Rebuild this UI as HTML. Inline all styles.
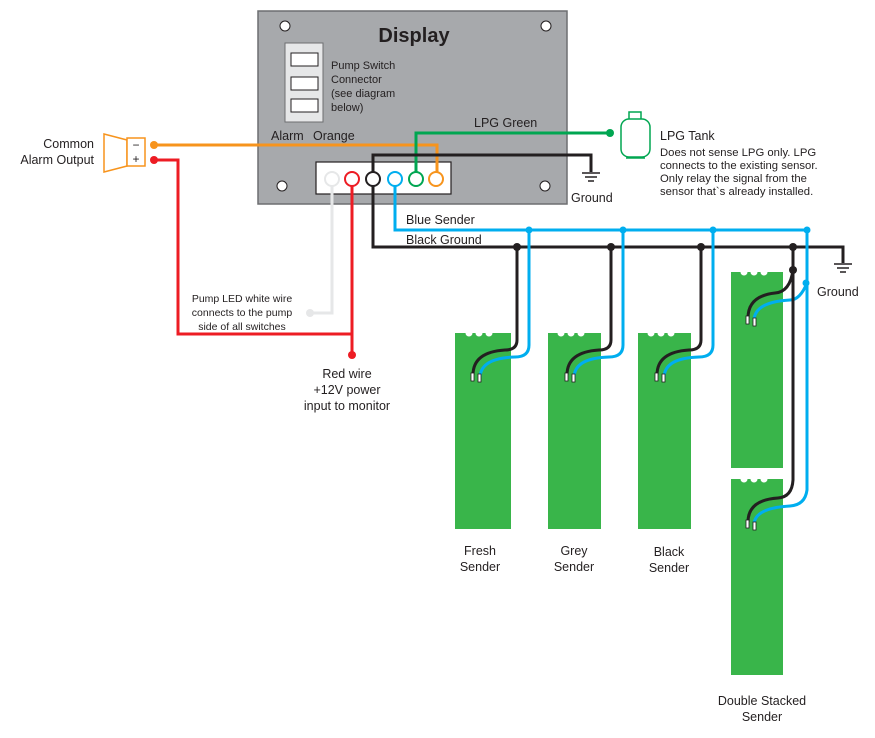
<!DOCTYPE html>
<html><head><meta charset="utf-8"><style>
html,body{margin:0;padding:0;background:#fff}
svg text{font-family:"Liberation Sans",Arial,sans-serif;fill:#231f20}
</style></head><body>
<svg width="875" height="733" viewBox="0 0 875 733" xmlns="http://www.w3.org/2000/svg">
<rect x="258" y="11" width="309" height="193" fill="#a7a9ac" stroke="#6d6e71" stroke-width="1.5"/>
<text x="414" y="42" font-size="20" font-weight="bold" text-anchor="middle">Display</text>
<g fill="#fff" stroke="#231f20" stroke-width="1"><circle cx="285" cy="26" r="5"/><circle cx="546" cy="26" r="5"/><circle cx="282" cy="186" r="5"/><circle cx="545" cy="186" r="5"/></g>
<rect x="285" y="43" width="38" height="79" fill="#e6e7e8" stroke="#6d6e71"/>
<g fill="#fff" stroke="#231f20"><rect x="291" y="53" width="27" height="13"/><rect x="291" y="77" width="27" height="13"/><rect x="291" y="99" width="27" height="13"/></g>
<g font-size="11"><text x="331" y="69">Pump Switch</text><text x="331" y="83">Connector</text><text x="331" y="97">(see diagram</text><text x="331" y="111">below)</text></g>
<text x="271" y="140" font-size="12.5">Alarm</text><text x="313" y="140" font-size="12.5">Orange</text>
<text x="474" y="127" font-size="12.5">LPG Green</text>
<rect x="316" y="162" width="135" height="32" fill="#fff" stroke="#231f20" stroke-width="1.2"/>
<g fill="none" stroke-width="3">
<polyline points="154,145 437,145 437,172" stroke="#f7941d"/>
<polyline points="416,172 416,133 610,133" stroke="#00a651"/>
<polyline points="373,172 373,155 591,155 591,172" stroke="#231f20"/>
<polyline points="395,186 395,230 807,230" stroke="#00aeef"/>
<polyline points="373,186 373,247 843,247 843,263" stroke="#231f20"/>
<polyline points="332,186 332,313 311,313" stroke="#e6e7e8"/>
<polyline points="352,186 352,355" stroke="#ed1c24"/>
<polyline points="154,160 178,160 178,334 352,334" stroke="#ed1c24"/>
</g>
<g stroke-width="2" fill="#fff">
<circle cx="332" cy="179" r="7" stroke="#e6e7e8"/><circle cx="352" cy="179" r="7" stroke="#ed1c24"/><circle cx="373" cy="179" r="7" stroke="#231f20"/><circle cx="395" cy="179" r="7" stroke="#00aeef"/><circle cx="416" cy="179" r="7" stroke="#00a651"/><circle cx="436" cy="179" r="7" stroke="#f7941d"/>
</g>
<circle cx="154" cy="145" r="4" fill="#f7941d"/><circle cx="154" cy="160" r="4" fill="#ed1c24"/>
<circle cx="310" cy="313" r="4" fill="#e6e7e8"/><circle cx="352" cy="355" r="4" fill="#ed1c24"/>
<circle cx="610" cy="133" r="4" fill="#00a651"/>
<g stroke="#231f20" stroke-width="1.5"><line x1="582" y1="173" x2="600" y2="173"/><line x1="585" y1="177" x2="597" y2="177"/><line x1="588" y1="181" x2="594" y2="181"/>
<line x1="834" y1="264" x2="852" y2="264"/><line x1="837" y1="268" x2="849" y2="268"/><line x1="840" y1="272" x2="846" y2="272"/></g>
<text x="571" y="202" font-size="12.5">Ground</text>
<text x="817" y="296" font-size="12.5">Ground</text>
<text x="406" y="224" font-size="12.5">Blue Sender</text>
<text x="406" y="244" font-size="12.5">Black Ground</text>
<polygon points="104,134 127,140 127,166 104,172" fill="#fff" stroke="#f7941d" stroke-width="1.5"/>
<rect x="127" y="138" width="18" height="28" fill="#fff" stroke="#f7941d" stroke-width="1.5"/>
<text x="136" y="149" font-size="12" text-anchor="middle">−</text><text x="136" y="163" font-size="12" text-anchor="middle">+</text>
<g font-size="12.5" text-anchor="end"><text x="94" y="148">Common</text><text x="94" y="164">Alarm Output</text></g>
<g font-size="10.5" text-anchor="middle"><text x="242" y="302">Pump LED white wire</text><text x="242" y="316">connects to the pump</text><text x="242" y="330">side of all switches</text></g>
<g font-size="12.5" text-anchor="middle"><text x="347" y="378">Red wire</text><text x="347" y="394">+12V power</text><text x="347" y="410">input to monitor</text></g>
<g fill="#fff" stroke="#00a651" stroke-width="1.5"><rect x="629" y="112" width="12" height="8"/><rect x="621" y="119" width="29" height="38" rx="8"/><line x1="626" y1="158" x2="645" y2="158"/></g>
<text x="660" y="140" font-size="12.5">LPG Tank</text>
<g font-size="11.3"><text x="660" y="156">Does not sense LPG only. LPG</text><text x="660" y="169">connects to the existing sensor.</text><text x="660" y="182">Only relay the signal from the</text><text x="660" y="195">sensor that`s already installed.</text></g>
<g fill="#39b54a">
<rect x="455" y="333" width="56" height="196"/><rect x="548" y="333" width="53" height="196"/><rect x="638" y="333" width="53" height="196"/>
<rect x="731" y="272" width="52" height="196"/><rect x="731" y="479" width="52" height="196"/>
</g>
<g fill="#fff">
<circle cx="469" cy="333" r="3.5"/><circle cx="479" cy="333" r="3.5"/><circle cx="489" cy="333" r="3.5"/>
<circle cx="561" cy="333" r="3.5"/><circle cx="571" cy="333" r="3.5"/><circle cx="581" cy="333" r="3.5"/>
<circle cx="651" cy="333" r="3.5"/><circle cx="661" cy="333" r="3.5"/><circle cx="671" cy="333" r="3.5"/>
<circle cx="744" cy="272" r="3.5"/><circle cx="754" cy="272" r="3.5"/><circle cx="764" cy="272" r="3.5"/>
<circle cx="744" cy="479" r="3.5"/><circle cx="754" cy="479" r="3.5"/><circle cx="764" cy="479" r="3.5"/>
</g>
<g fill="none" stroke-width="3">
<path d="M517 247 V340 Q517 350 505 350 Q473 352 473 375" stroke="#231f20"/>
<path d="M529 230 V345 Q529 357 515 357 Q480 358 480 378" stroke="#00aeef"/>
<path d="M611 247 V340 Q611 350 599 350 Q567 352 567 375" stroke="#231f20"/>
<path d="M623 230 V345 Q623 357 609 357 Q574 358 574 378" stroke="#00aeef"/>
<path d="M701 247 V340 Q701 350 689 350 Q657 352 657 375" stroke="#231f20"/>
<path d="M713 230 V345 Q713 357 699 357 Q664 358 664 378" stroke="#00aeef"/>
<path d="M793 247 V270 Q790 292 775 293 Q748 296 748 318" stroke="#231f20"/>
<path d="M807 230 V283 Q800 300 790 300 Q754 302 754 321" stroke="#00aeef"/>
<path d="M793 270 V480 Q792 497 778 498 Q748 500 748 522" stroke="#231f20"/>
<path d="M807 283 V490 Q805 505 790 506 Q754 508 754 525" stroke="#00aeef"/>
</g>
<g fill="#231f20"><circle cx="517" cy="247" r="4"/><circle cx="611" cy="247" r="4"/><circle cx="701" cy="247" r="4"/><circle cx="793" cy="247" r="4"/><circle cx="793" cy="270" r="4"/></g>
<g fill="#00aeef"><circle cx="529" cy="230" r="3.5"/><circle cx="623" cy="230" r="3.5"/><circle cx="713" cy="230" r="3.5"/><circle cx="807" cy="230" r="3.5"/><circle cx="806" cy="283" r="3.5"/></g>
<g fill="#fff" stroke="#231f20" stroke-width="0.8">
<rect x="471" y="373" width="3" height="8"/><rect x="478" y="374" width="3" height="8"/>
<rect x="565" y="373" width="3" height="8"/><rect x="572" y="374" width="3" height="8"/>
<rect x="655" y="373" width="3" height="8"/><rect x="662" y="374" width="3" height="8"/>
<rect x="746" y="316" width="3" height="8"/><rect x="753" y="318" width="3" height="8"/>
<rect x="746" y="520" width="3" height="8"/><rect x="753" y="522" width="3" height="8"/>
</g>
<g font-size="12.5" text-anchor="middle">
<text x="480" y="555">Fresh</text><text x="480" y="571">Sender</text>
<text x="574" y="555">Grey</text><text x="574" y="571">Sender</text>
<text x="669" y="556">Black</text><text x="669" y="572">Sender</text>
<text x="762" y="705">Double Stacked</text><text x="762" y="721">Sender</text>
</g>
</svg>
</body></html>
